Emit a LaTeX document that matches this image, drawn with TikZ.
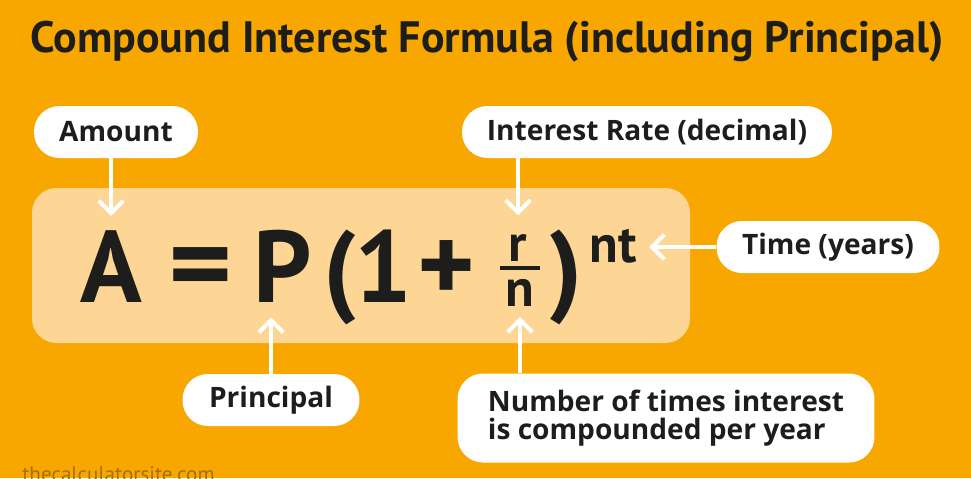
\documentclass[tikz,border=0pt]{standalone}
\usepackage{fontspec}
\setmainfont{PT Sans}
\newfontfamily\labelfont{Open Sans}
\usepackage{tikz}
\usetikzlibrary{arrows.meta, positioning}

\definecolor{bgorange}{RGB}{247,167,0}
\definecolor{boxpeach}{RGB}{253,213,149}
\definecolor{inkdark}{RGB}{29,29,27}
\definecolor{markbrown}{RGB}{165,110,10}

\begin{document}
\begin{tikzpicture}[x=0.02cm, y=-0.02cm,
  every node/.style={font=\bfseries, text=inkdark},
  pill/.style={fill=white, rounded corners=14.5pt, minimum height=1.04cm, inner sep=0pt, font=\labelfont\fontsize{16}{16}\selectfont\bfseries},
  glyph/.style={inner sep=0pt, anchor=base, font=\fontsize{58}{58}\selectfont\bfseries},
  small glyph/.style={inner sep=0pt, anchor=base, font=\fontsize{30}{30}\selectfont\bfseries},
  pointer/.style={draw=white, line width=2.3pt, -{Straight Barb[length=7pt, width=14pt]}}]
% Background
\useasboundingbox (0,0) rectangle (971,478);
\clip (0,0) rectangle (971,478);
\fill[bgorange] (0,0) rectangle (971,478);

% Title
\node[font=\fontsize{25}{26}\selectfont\bfseries] (title) at (487,42) {Compound Interest Formula (including Principal)};

% Formula panel
\fill[boxpeach, rounded corners=14pt] (32,188) rectangle (690,343);
\node[glyph] (A) at (111,302) {A};
\node[glyph] (eq) at (201,302) {\scalebox{1.2}[1.1]{=}};
\node[glyph] (P) at (283,302) {P};
\node[glyph] (lpar) at (340,302) {(};
\node[glyph] (one) at (383,302) {1};
\node[glyph] (plus) at (446,302) {\scalebox{1.08}{+}};
\node[small glyph] (r) at (518,261) {r};
\draw[inkdark, line width=2.8pt] (500,268) -- (540,268);
\node[small glyph] (n) at (520,306) {n};
\node[glyph] (rpar) at (566,302) {)};
\node[small glyph] (nt) at (613,262) {nt};

% Labels
\node[pill, minimum width=3.28cm] (amount) at (116,132) {Amount};
\node[pill, minimum width=7.4cm] (rate) at (647,132) {Interest Rate (decimal)};
\node[pill, minimum width=4.46cm] (time) at (828,247) {Time (years)};
\node[pill, minimum width=3.54cm] (principal) at (271,400) {Principal};
\node[pill, minimum width=8.34cm, minimum height=1.78cm, align=left] (number) at (666,418) {Number of times interest\\is compounded per year};

% Arrows
\draw[pointer, shorten >=8pt] (A.north |- amount.south) -- (A.north);
\draw[pointer, shorten >=10.5pt] (r.north |- rate.south) -- (r.north);
\draw[pointer, shorten >=7pt] (time.west) -- (time.west -| nt.east);
\draw[pointer, shorten >=8.5pt] (principal.north) -- (principal.north |- P.south);
\draw[pointer, shorten >=6pt] (n.south |- number.north) -- (n.south);

% Watermark
\node[font=\fontsize{12}{12}\selectfont\mdseries, text=markbrown, anchor=base west, inner sep=0pt] (site) at (22,481) {thecalculatorsite.com};
\end{tikzpicture}
\end{document}
